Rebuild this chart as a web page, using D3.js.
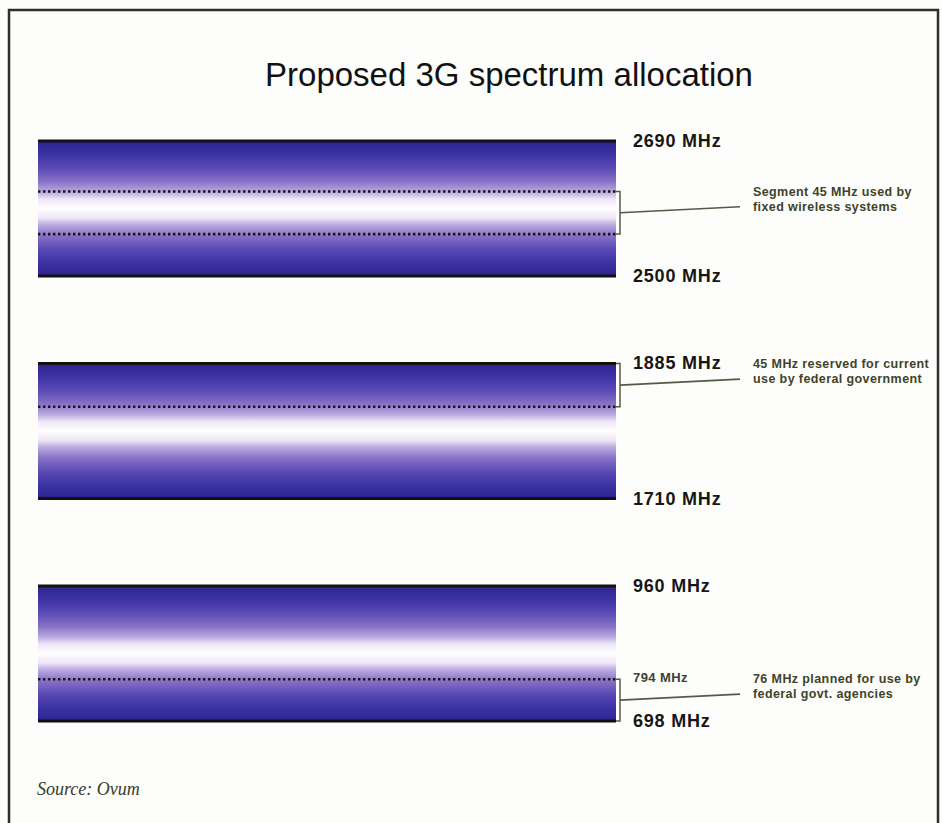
<!DOCTYPE html>
<html>
<head>
<meta charset="utf-8">
<script src="https://cdn.jsdelivr.net/npm/d3@7"></script>
<style>
  body { margin: 0; background: #fdfdfc; }
  svg { display: block; }
</style>
</head>
<body>
<div id="chart"></div>
<script>
// Chart data
var bandNames = ["upper", "middle", "lower"];
var bandHigh = [2690, 1885, 960];
var bandLow = [2500, 1710, 698];
var highLabels = ["2690 MHz", "1885 MHz", "960 MHz"];
var lowLabels = ["2500 MHz", "1710 MHz", "698 MHz"];
// dotted lines (MHz)
var dottedLines = [[2619, 2559], [1829], [779]];
// segment each note points at (MHz)
var segTop = [2619, 1885, 779];
var segBottom = [2559, 1829, 698];
var innerLabels = ["", "", "794 MHz"];
var noteLines = [
  ["Segment 45 MHz used by", "fixed wireless systems"],
  ["45 MHz reserved for current", "use by federal government"],
  ["76 MHz planned for use by", "federal govt. agencies"]
];

var svgWidth = 942;
var svgHeight = 823;

var barLeft = 38;
var barRight = 616;

var svg = d3.select("#chart")
  .append("svg")
  .attr("width", svgWidth)
  .attr("height", svgHeight);

// Gradient for the bands: dark at the edges, white in the middle
var defs = svg.append("defs");
var grad = defs.append("linearGradient")
  .attr("id", "bandGrad")
  .attr("x1", 0).attr("y1", 0)
  .attr("x2", 0).attr("y2", 1);

var stops = [
  [0, "#2a2490"], [0.1, "#3d33a3"], [0.2, "#5a4ab5"], [0.3, "#8872c7"],
  [0.38, "#bcaae0"], [0.43, "#eee6f7"], [0.5, "#ffffff"], [0.57, "#eee6f7"],
  [0.62, "#bcaae0"], [0.7, "#8872c7"], [0.8, "#5a4ab5"], [0.9, "#3d33a3"],
  [1, "#2a2490"]
];
grad.selectAll("stop")
  .data(stops)
  .enter()
  .append("stop")
  .attr("offset", d => d[0])
  .attr("stop-color", d => d[1]);

// Frame
svg.append("rect")
  .attr("x", 9)
  .attr("y", 10)
  .attr("width", 929)
  .attr("height", 840)
  .attr("fill", "#fdfdfc")
  .attr("stroke", "#2e2e2a")
  .attr("stroke-width", 2.5);

// Title
svg.append("text")
  .attr("x", 509)
  .attr("y", 86)
  .attr("text-anchor", "middle")
  .attr("font-family", "Liberation Sans, Arial, sans-serif")
  .attr("font-size", "33px")
  .attr("fill", "#111")
  .text("Proposed 3G spectrum allocation");

// Rows
var rowScale = d3.scaleBand()
  .domain(bandNames)
  .range([141, 721])
  .paddingInner(0.393)
  .paddingOuter(0);

bandNames.forEach(function(name, i) {
  var top = rowScale(name);
  var bottom = top + rowScale.bandwidth();
  var y = d3.scaleLinear()
    .domain([bandLow[i], bandHigh[i]])
    .range([bottom, top]);

  var g = svg.append("g");

  g.append("rect")
    .attr("x", barLeft)
    .attr("y", top)
    .attr("width", barRight - barLeft)
    .attr("height", bottom - top)
    .attr("fill", "url(#bandGrad)");

  // black edges
  [bandHigh[i], bandLow[i]].forEach(function(v) {
    g.append("line")
      .attr("x1", barLeft).attr("x2", barRight)
      .attr("y1", y(v)).attr("y2", y(v))
      .attr("stroke", "#111")
      .attr("stroke-width", 3);
  });

  // dotted lines
  dottedLines[i].forEach(function(v) {
    g.append("line")
      .attr("x1", barLeft).attr("x2", barRight + 2)
      .attr("y1", y(v)).attr("y2", y(v))
      .attr("stroke", "#151515")
      .attr("stroke-width", 2.6)
      .attr("stroke-dasharray", "2.4,2.6");
  });

  // frequency labels
  g.append("text")
    .attr("x", 633)
    .attr("y", top + 6)
    .attr("font-family", "Liberation Sans, Arial, sans-serif")
    .attr("font-weight", "bold")
    .attr("font-size", "18px")
    .attr("letter-spacing", "0.8px")
    .attr("fill", "#161616")
    .text(highLabels[i]);

  g.append("text")
    .attr("x", 633)
    .attr("y", bottom + 6)
    .attr("font-family", "Liberation Sans, Arial, sans-serif")
    .attr("font-weight", "bold")
    .attr("font-size", "18px")
    .attr("letter-spacing", "0.8px")
    .attr("fill", "#161616")
    .text(lowLabels[i]);

  if (innerLabels[i]) {
    g.append("text")
      .attr("x", 633)
      .attr("y", y(dottedLines[i][0]) + 3)
      .attr("font-family", "Liberation Sans, Arial, sans-serif")
      .attr("font-weight", "bold")
      .attr("font-size", "13px")
      .attr("letter-spacing", "0.4px")
      .attr("fill", "#3d4230")
      .text(innerLabels[i]);
  }

  // bracket + leader line
  var y1 = y(segTop[i]);
  var y2 = y(segBottom[i]);
  var mid = (y1 + y2) / 2;
  g.append("path")
    .attr("d", `M${barRight},${y1} H${barRight + 4} V${y2} H${barRight}`)
    .attr("fill", "none")
    .attr("stroke", "#555a48")
    .attr("stroke-width", 1.5);

  g.append("line")
    .attr("x1", barRight + 4).attr("y1", mid)
    .attr("x2", 740).attr("y2", mid - 6)
    .attr("stroke", "#555a48")
    .attr("stroke-width", 1.6);

  // note text
  g.append("text")
    .attr("x", 753)
    .attr("y", mid - 17)
    .attr("font-family", "Liberation Sans, Arial, sans-serif")
    .attr("font-weight", "bold")
    .attr("font-size", "12.5px")
    .attr("letter-spacing", "0.4px")
    .attr("fill", "#3d4428")
    .selectAll("tspan")
    .data(noteLines[i])
    .enter()
    .append("tspan")
    .attr("x", 753)
    .attr("dy", (d, j) => j === 0 ? 0 : 15)
    .text(d => d);
});

// Source
svg.append("text")
  .attr("x", 37)
  .attr("y", 795)
  .attr("font-family", "Liberation Serif, Times New Roman, serif")
  .attr("font-style", "italic")
  .attr("font-size", "18px")
  .attr("fill", "#363c28")
  .text("Source: Ovum");
</script>
</body>
</html>
